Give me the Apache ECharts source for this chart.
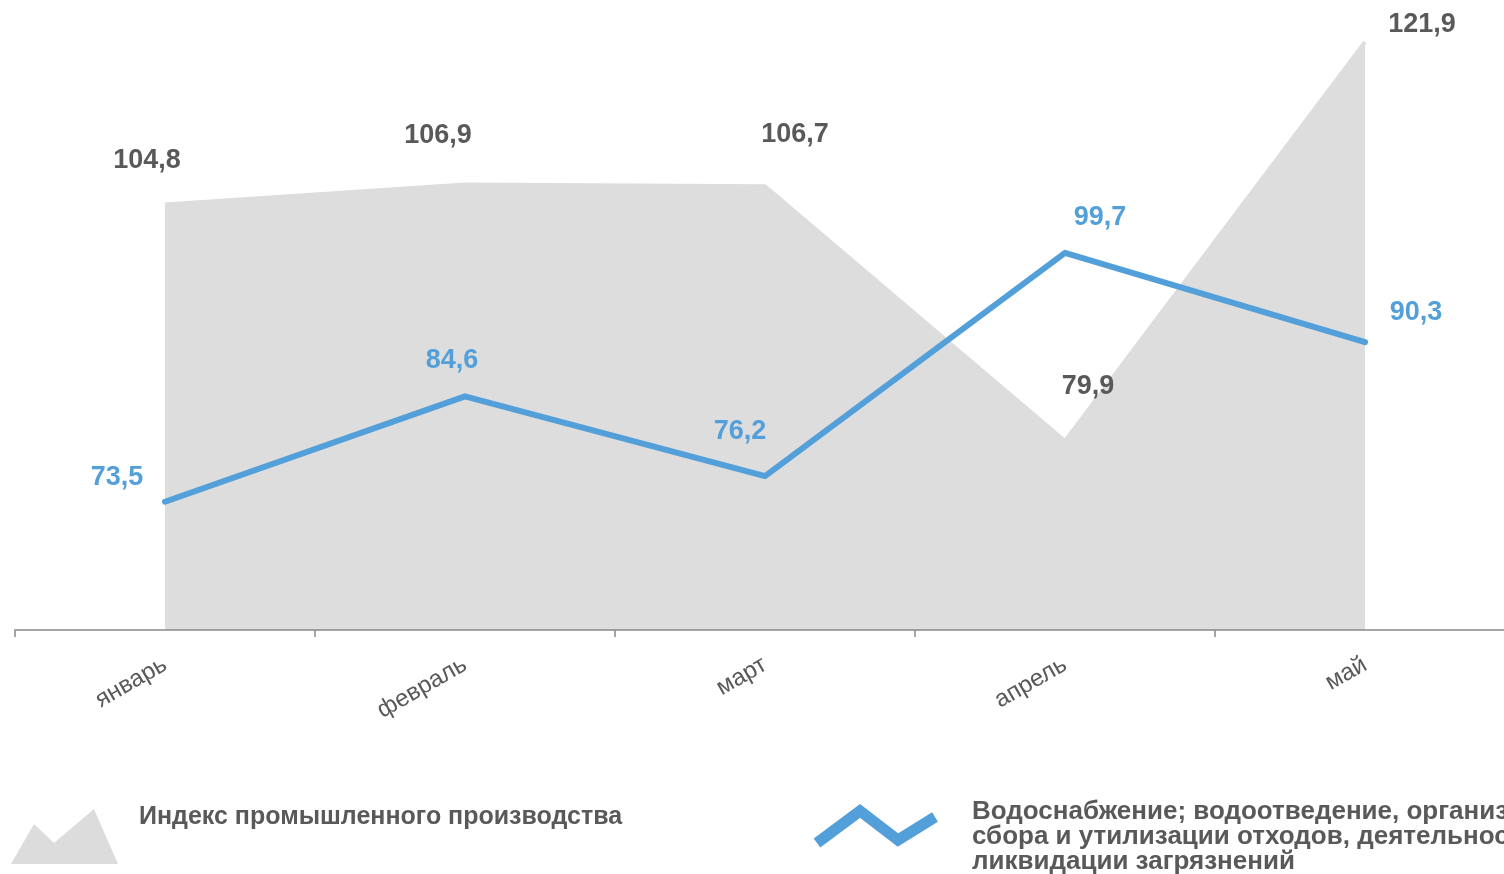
<!DOCTYPE html>
<html>
<head>
<meta charset="utf-8">
<script src="https://cdn.jsdelivr.net/npm/echarts@6/dist/echarts.min.js"></script>
<style>
  html, body { margin: 0; padding: 0; background: #fff; }
  #chart { width: 1504px; height: 874px; }
</style>
</head>
<body>
<div id="chart"></div>
<script type="text/javascript">
  // данные
  var months = ['январь', 'февраль', 'март', 'апрель', 'май'];
  var industryIndex = [104.8, 106.9, 106.7, 79.9, 121.9];
  var waterSupply = [73.5, 84.6, 76.2, 99.7, 90.3];
  var industryName = 'Индекс промышленного производства';
  var waterName = 'Водоснабжение; водоотведение, организация\nсбора и утилизации отходов, деятельность по\nликвидации загрязнений';

  // смещения подписей (как в исходной диаграмме)
  var industryLabelOffsets = [[-18, -44], [-27, -49], [30, -52], [23, -54], [57, -17]];
  var waterLabelOffsets = [[-48, -24], [-13, -36], [-25, -45], [35, -35], [51, -30]];

  var grayText = '#595959';
  var grayArea = '#dddddd';
  var blue = '#539fd9';
  var fontFamily = '"Liberation Sans", Arial, sans-serif';

  function withOffsets(values, offsets) {
    return values.map(function (v, i) {
      return { value: v, label: { offset: offsets[i] } };
    });
  }
  function fmt(p) {
    return String(p.value).replace('.', ',');
  }

  var myChart = echarts.init(document.getElementById('chart'));
  var option = {
    animation: false,
    textStyle: { fontFamily: fontFamily },
    grid: { left: 15, right: -11, top: 12.5, bottom: 244, outerBoundsMode: 'none', containLabel: false },
    xAxis: {
      type: 'category',
      data: months,
      boundaryGap: true,
      z: 5,
      axisLine: { lineStyle: { color: '#898989', width: 1.5 } },
      axisTick: { show: true, length: 7, lineStyle: { color: '#898989', width: 1.5 } },
      axisLabel: { rotate: 30, margin: 33, fontSize: 24, color: grayText, fontFamily: fontFamily }
    },
    yAxis: {
      type: 'value',
      min: 60,
      max: 125,
      show: false,
      splitLine: { show: false }
    },
    // легенда
    graphic: [
      {
        type: 'polygon',
        shape: { points: [[11, 864], [34, 824], [54, 843], [94, 809], [118, 864]] },
        style: { fill: '#dcdcdc' }
      },
      {
        type: 'text',
        left: 139, top: 805,
        style: { text: industryName, fill: grayText, font: 'bold 25px ' + fontFamily }
      },
      {
        type: 'polyline',
        shape: { points: [[817, 843], [860, 811], [898, 840], [935, 817]] },
        style: { stroke: blue, lineWidth: 11, fill: null, lineJoin: 'miter' }
      },
      {
        type: 'text',
        left: 972, top: 799,
        style: { text: waterName, fill: grayText, font: 'bold 26px ' + fontFamily, lineHeight: 25 }
      }
    ],
    series: [
      {
        name: industryName,
        type: 'line',
        data: withOffsets(industryIndex, industryLabelOffsets),
        symbol: 'circle',
        symbolSize: 1,
        showSymbol: true,
        itemStyle: { color: 'rgba(0,0,0,0)' },
        lineStyle: { color: grayArea, width: 4 },
        areaStyle: { color: grayArea, opacity: 1 },
        z: 2,
        label: {
          show: true,
          position: 'inside',
          formatter: fmt,
          color: grayText,
          fontSize: 27,
          fontWeight: 'bold',
          fontFamily: fontFamily
        }
      },
      {
        name: waterName,
        type: 'line',
        data: withOffsets(waterSupply, waterLabelOffsets),
        symbol: 'circle',
        symbolSize: 1,
        showSymbol: true,
        itemStyle: { color: 'rgba(0,0,0,0)' },
        lineStyle: { color: blue, width: 6, cap: 'round', join: 'round' },
        z: 3,
        label: {
          show: true,
          position: 'inside',
          formatter: fmt,
          color: blue,
          fontSize: 27,
          fontWeight: 'bold',
          fontFamily: fontFamily
        }
      }
    ]
  };
  myChart.setOption(option);
</script>
</body>
</html>
